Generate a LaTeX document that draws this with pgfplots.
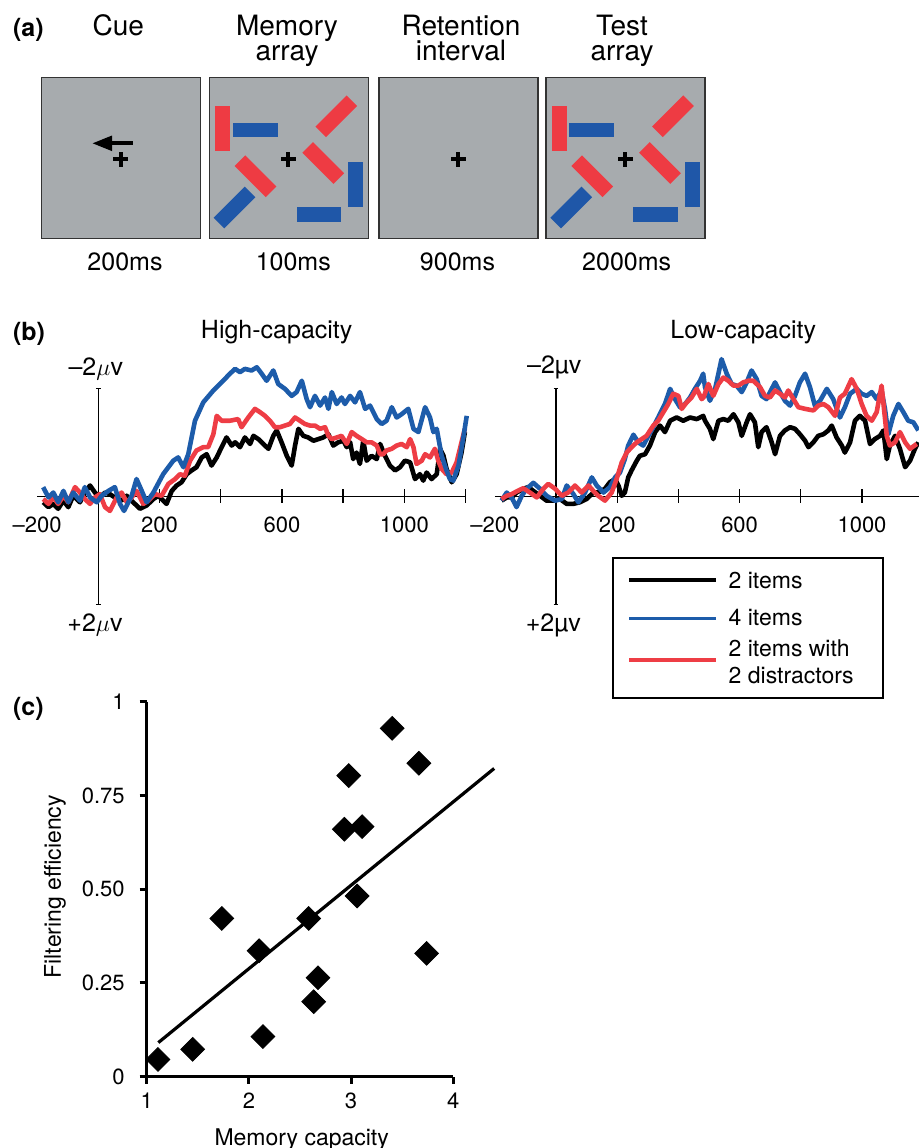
\documentclass[border=0pt]{standalone}
\usepackage{fontspec}
\setmainfont{TeX Gyre Heros}
\usepackage{pgfplots}
\pgfplotsset{compat=1.18}

\definecolor{panelgray}{HTML}{A7ABAE}
\definecolor{barred}{HTML}{EE3B43}
\definecolor{barblue}{HTML}{1F57A8}
\definecolor{erpblue}{HTML}{1D5CAA}
\definecolor{erpred}{HTML}{EE3D45}

\newcommand\fs[1]{\fontsize{#1}{#1}\selectfont}

% one stimulus display, #1,#2 = top left corner in px
\newcommand\stimitems[2]{%
  \begin{scope}[shift={(#1,#2)}]
    \fill[barred] (5.7,28.7) rectangle (20.7,73.4);
    \fill[barblue] (23.4,45.4) rectangle (68.4,60);
    \fill[barblue] (139,85) rectangle (154,130);
    \fill[barblue] (87.4,129.4) rectangle (131.7,144.4);
    \fill[barred, rotate around={-45:(46.2,99)}] (24.2,91.5) rectangle (68.2,106.5);
    \fill[barblue, rotate around={45:(25.2,130.2)}] (3.2,122.7) rectangle (47.2,137.7);
    \fill[barred, rotate around={45:(127,39)}] (105,31.5) rectangle (149,46.5);
    \fill[barred, rotate around={-45:(114,85.7)}] (92,78.2) rectangle (136,93.2);
  \end{scope}}
\newcommand\fixcross[2]{%
  \fill (#1-7.5,#2-2) rectangle (#1+7.5,#2+2);
  \fill (#1-2,#2-7.5) rectangle (#1+2,#2+7.5);}

% ERP axes: drawn by hand in axis cs so they follow the reversed y axis
\newcommand\erpframe{%
  \draw[line width=0.65pt] (axis cs:-200,0) -- (axis cs:1200,0);
  \draw[line width=0.65pt] (axis cs:0,-2) -- (axis cs:0,2);
  \draw[line width=0.65pt] (axis cs:-8,-2) -- (axis cs:8,-2);
  \draw[line width=0.65pt] (axis cs:-8,2) -- (axis cs:8,2);
  \pgfplotsinvokeforeach{200,400,600,800,1000,1200}{
    \draw[line width=0.65pt] (axis cs:##1,-0.13) -- (axis cs:##1,0.13);}
  \node[font=\fs{11}, anchor=base] at (axis cs:-200,0.667) {–200};
  \node[font=\fs{11}, anchor=base] at (axis cs:200,0.667) {200};
  \node[font=\fs{11}, anchor=base] at (axis cs:600,0.667) {600};
  \node[font=\fs{11}, anchor=base] at (axis cs:1000,0.667) {1000};}

\pgfplotsset{erp/.style={
  scale only axis, width=214.2pt, height=108pt,
  xmin=-200, xmax=1200, ymin=-2, ymax=2, y dir=reverse,
  hide axis, clip=false,
  every axis plot/.append style={line width=2.3pt, line join=round},
}}

\begin{document}
\begin{tikzpicture}
\begin{scope}[x=0.5pt, y=-0.5pt]
% ---------- panel (a)
\node[font=\bfseries\fs{12.5}, anchor=base west, inner sep=0] at (12.7,36) {(a)};
\node[font=\fs{14}, anchor=base] at (118.3,35) {Cue};
\node[font=\fs{14}, anchor=base] at (287,35) {Memory};
\node[font=\fs{14}, anchor=base] at (287,60) {array};
\node[font=\fs{14}, anchor=base] at (461,35) {Retention};
\node[font=\fs{14}, anchor=base] at (461,60) {interval};
\node[font=\fs{14}, anchor=base] at (622,35) {Test};
\node[font=\fs{14}, anchor=base] at (622,60) {array};

\foreach \sx in {41.7,209.3,379,546}
  \filldraw[fill=panelgray, draw=black!80, line width=0.6pt] (\sx,77.3) rectangle ++(159,161);

% cue
\fill (92.7,143.3) -- (112,135.5) -- (112,151.1) -- cycle;
\fill (110,141.2) rectangle (133.3,145.4);
\fixcross{120.7}{159}
% memory array
\stimitems{209.3}{77.3}
\fixcross{288.3}{159}
% retention
\fixcross{458}{159}
% test array
\stimitems{546}{77.3}
\fixcross{625}{159}

\node[font=\fs{12.5}, anchor=base] at (125,270) {200ms};
\node[font=\fs{12.5}, anchor=base] at (293.3,270) {100ms};
\node[font=\fs{12.5}, anchor=base] at (457.5,270) {900ms};
\node[font=\fs{12.5}, anchor=base] at (626.7,270) {2000ms};

% ---------- panel (b) texts
\node[font=\bfseries\fs{12.5}, anchor=base west, inner sep=0] at (12.7,340) {(b)};
\node[font=\fs{12.5}, anchor=base] at (276.7,338.3) {High-capacity};
\node[font=\fs{12.5}, anchor=base] at (743.3,338.3) {Low-capacity};
\node[font=\fs{12.5}, anchor=base] at (95.8,375) {–2$\mu$v};
\node[font=\fs{12.5}, anchor=base] at (95,631.7) {+2$\mu$v};
\node[font=\fs{12.5}, anchor=base] at (554.2,373.3) {–2µv};
\node[font=\fs{12.5}, anchor=base] at (553.3,631.7) {+2µv};

% legend
\filldraw[fill=white, draw=black, line width=1.1pt] (613.3,558.3) rectangle (882.7,698.3);
\draw[black, line width=2pt] (629.3,580) -- (716,580);
\draw[erpblue, line width=1.8pt] (629.3,618.3) -- (716,618.3);
\draw[erpred, line width=1.8pt] (629.3,660) -- (716,660);
\node[font=\fs{11.5}, anchor=base west, inner sep=0] at (728.3,588.3) {2 items};
\node[font=\fs{11.5}, anchor=base west, inner sep=0] at (728.3,625) {4 items};
\node[font=\fs{11.5}, anchor=base west, inner sep=0] at (728.3,656.7) {2 items with};
\node[font=\fs{11.5}, anchor=base west, inner sep=0] at (728.3,683.3) {2 distractors};

% ---------- panel (c) texts
\node[font=\bfseries\fs{12.5}, anchor=base west, inner sep=0] at (12.7,715) {(c)};
\node[font=\fs{11.5}, anchor=base] at (301.7,1145) {Memory capacity};
\node[font=\fs{11.5}, anchor=base, rotate=90] at (61,886.7) {Filtering efficiency};
\end{scope}

% ---------- High-capacity
\begin{axis}[erp, at={(18.55pt,-302.15pt)}, anchor=south west]
\erpframe
\addplot[black] coordinates {
(-180,0.11) (-163,0.20) (-147,0.14) (-131,0.23) (-114,0.08) (-98,0.20) (-82,-0.01)
(-60,0.11) (-44,-0.07) (-27,-0.20) (-11,-0.07) (5,0.02) (22,-0.07) (38,-0.04)
(54,0.02) (76,0.08) (93,-0.01) (114,0.11) (136,0.23) (158,0.17) (180,0.05)
(196,-0.01) (212,0.08) (223,0.14) (240,-0.10) (256,-0.20) (272,-0.26) (289,-0.41)
(305,-0.48) (321,-0.54) (338,-0.72) (354,-0.78) (370,-0.57) (387,-0.72) (403,-0.91)
(419,-1.09) (436,-0.94) (447,-1.00) (463,-0.91) (479,-1.09) (496,-0.97) (507,-1.12)
(523,-1.06) (539,-0.97) (556,-0.88) (572,-1.12) (583,-1.22) (599,-1.00) (616,-0.75)
(632,-0.57) (643,-0.94) (654,-1.25) (670,-1.12) (686,-1.09) (703,-1.03) (719,-1.06)
(735,-1.09) (752,-1.15) (768,-0.94) (784,-1.00) (801,-1.03) (812,-0.91) (823,-1.00)
(833,-0.69) (844,-0.81) (855,-0.60) (866,-1.03) (877,-0.66) (893,-0.75) (910,-0.69)
(921,-0.97) (937,-0.75) (953,-0.57) (970,-0.48) (986,-0.54) (1002,-0.66) (1019,-0.63)
(1035,-0.32) (1051,-0.41) (1062,-0.29) (1073,-0.44) (1089,-0.32) (1106,-0.41)
(1117,-0.88) (1128,-0.75) (1138,-0.51) (1155,-0.26) (1171,-0.41) (1187,-0.81) (1198,-1.19)};
\addplot[erpred] coordinates {
(-180,0.05) (-163,0.14) (-147,0.02) (-131,0.14) (-114,-0.01) (-98,0.11) (-76,-0.17)
(-60,-0.07) (-44,0.05) (-27,0.14) (-11,0.02) (5,-0.04) (22,0.20) (38,0.27) (60,0.02)
(76,-0.07) (93,0.11) (109,0.02) (125,-0.10) (147,0.14) (163,0.08) (185,-0.04)
(207,-0.01) (229,-0.23) (251,-0.32) (267,-0.41) (283,-0.38) (300,-0.66) (321,-0.85)
(343,-0.91) (359,-0.91) (376,-1.15) (387,-1.49) (403,-1.40) (430,-1.40) (457,-1.43)
(468,-1.28) (490,-1.46) (512,-1.62) (528,-1.56) (545,-1.49) (561,-1.40) (577,-1.28)
(594,-1.28) (610,-1.31) (626,-1.34) (643,-1.46) (659,-1.40) (675,-1.34) (692,-1.31)
(708,-1.31) (725,-1.25) (741,-1.28) (752,-1.12) (763,-1.06) (779,-1.09) (795,-1.12)
(812,-0.97) (828,-1.19) (844,-1.12) (861,-1.06) (877,-1.00) (893,-1.00) (910,-0.94)
(921,-0.78) (931,-0.78) (942,-0.85) (959,-0.88) (975,-0.94) (991,-0.97) (1008,-0.91)
(1019,-1.06) (1030,-0.91) (1040,-0.60) (1057,-0.66) (1068,-0.78) (1084,-0.72)
(1100,-0.88) (1111,-0.66) (1122,-0.51) (1138,-0.41) (1155,-0.44) (1171,-0.63)
(1187,-1.00) (1198,-1.25)};
\addplot[erpblue] coordinates {
(-180,-0.17) (-163,0.02) (-147,-0.07) (-131,0.11) (-114,-0.10) (-98,0.11) (-82,-0.07)
(-60,0.08) (-44,-0.17) (-27,0.02) (-5,0.11) (11,-0.01) (33,-0.10) (54,-0.17) (71,0.14)
(84,0.27) (109,-0.01) (125,-0.32) (142,-0.10) (158,0.11) (180,-0.07) (212,-0.41)
(245,-0.66) (261,-0.72) (278,-0.54) (294,-0.78) (316,-1.40) (343,-1.74) (376,-1.96)
(408,-2.14) (430,-2.27) (447,-2.36) (463,-2.30) (479,-2.36) (501,-2.33) (518,-2.39)
(534,-2.27) (550,-2.14) (572,-2.33) (588,-2.08) (610,-1.99) (632,-1.86) (648,-1.93)
(665,-2.14) (681,-1.80) (692,-1.65) (708,-1.86) (725,-1.68) (741,-1.83) (752,-1.62)
(763,-1.93) (779,-1.71) (795,-1.83) (806,-1.71) (823,-1.86) (839,-1.74) (855,-1.93)
(872,-1.62) (888,-1.68) (910,-1.43) (926,-1.34) (942,-1.40) (959,-1.65) (975,-1.46)
(991,-1.52) (1013,-1.62) (1030,-1.25) (1046,-1.19) (1068,-1.65) (1084,-1.46)
(1095,-1.19) (1106,-1.25) (1122,-0.75) (1138,-0.48) (1149,-0.32) (1160,-0.29)
(1177,-0.57) (1193,-1.09) (1204,-1.49)};
\end{axis}

% ---------- Low-capacity
\begin{axis}[erp, at={(247.4pt,-302.15pt)}, anchor=south west]
\erpframe
\addplot[black] coordinates {
(-178,0.08) (-161,0.02) (-145,0.02) (-129,-0.07) (-107,-0.14) (-90,-0.17) (-74,-0.10)
(-52,-0.01) (-31,0.08) (-9,0.08) (13,0.05) (35,0.14) (57,0.14) (78,0.11) (100,0.05)
(122,-0.07) (138,-0.07) (160,-0.14) (176,-0.26) (193,-0.32) (204,-0.20) (215,-0.01)
(225,-0.07) (236,-0.35) (247,-0.48) (264,-0.66) (274,-0.75) (291,-0.78) (307,-0.94)
(324,-1.19) (340,-1.31) (356,-1.19) (373,-1.40) (394,-1.46) (416,-1.40) (438,-1.46)
(460,-1.43) (481,-1.49) (487,-1.40) (503,-1.25) (514,-1.06) (531,-1.40) (547,-1.43)
(563,-1.40) (580,-1.52) (596,-1.37) (607,-1.12) (623,-1.37) (634,-1.52) (650,-1.37)
(661,-0.91) (672,-1.19) (688,-1.28) (705,-1.00) (716,-0.78) (732,-1.12) (748,-1.22)
(765,-1.28) (781,-1.25) (797,-1.15) (814,-1.03) (825,-0.91) (841,-1.00) (857,-1.12)
(874,-1.15) (890,-1.22) (901,-1.31) (917,-1.09) (934,-0.94) (944,-0.81) (961,-1.00)
(977,-1.40) (993,-1.49) (1010,-1.40) (1026,-0.97) (1042,-1.06) (1059,-1.12)
(1070,-1.22) (1081,-0.69) (1091,-0.94) (1108,-1.12) (1124,-0.88) (1141,-0.54)
(1157,-0.66) (1173,-0.88) (1184,-1.00)};
\addplot[erpblue] coordinates {
(-178,0.08) (-161,-0.07) (-145,0.02) (-129,0.20) (-112,-0.01) (-96,-0.14) (-74,-0.25)
(-52,-0.14) (-31,-0.01) (-3,0.08) (19,0.05) (35,-0.20) (57,-0.04) (73,0.11) (95,-0.07)
(117,-0.35) (133,-0.20) (155,-0.07) (176,-0.17) (193,-0.35) (209,-0.44) (225,-0.69)
(236,-0.94) (253,-1.14) (269,-1.00) (285,-0.94) (302,-1.12) (318,-1.28) (334,-1.46)
(356,-1.71) (373,-1.99) (389,-1.80) (405,-1.65) (422,-1.71) (438,-1.83) (454,-1.99)
(471,-2.14) (481,-2.27) (487,-2.02) (503,-1.77) (520,-1.99) (541,-2.54) (558,-2.27)
(574,-2.08) (590,-2.05) (607,-1.93) (623,-2.11) (639,-2.33) (656,-2.17) (672,-1.86)
(688,-1.80) (705,-1.99) (716,-2.11) (732,-1.93) (748,-1.77) (765,-1.68) (781,-1.86)
(797,-2.11) (814,-2.27) (830,-2.02) (846,-1.68) (863,-1.77) (885,-1.99) (906,-1.80)
(928,-1.46) (944,-1.65) (961,-1.90) (983,-1.99) (999,-1.90) (1015,-1.86) (1032,-1.93)
(1048,-1.80) (1064,-1.96) (1075,-1.62) (1086,-1.15) (1102,-1.49) (1119,-1.71)
(1135,-1.56) (1151,-1.40) (1168,-1.37) (1184,-1.22)};
\addplot[erpred] coordinates {
(-178,0.05) (-161,-0.01) (-145,-0.04) (-129,-0.09) (-107,-0.15) (-85,-0.07) (-63,0.02)
(-41,-0.14) (-25,-0.23) (-3,-0.14) (19,-0.01) (40,-0.07) (62,-0.20) (84,-0.07)
(106,-0.20) (122,-0.10) (138,-0.01) (160,0.08) (182,-0.07) (198,-0.32) (215,-0.63)
(231,-0.81) (247,-0.91) (264,-1.00) (280,-1.06) (296,-1.12) (318,-1.31) (334,-1.40)
(351,-1.56) (367,-1.71) (383,-1.90) (400,-1.86) (411,-1.62) (427,-1.74) (443,-1.83)
(460,-1.99) (476,-1.80) (482,-1.83) (498,-2.08) (514,-1.86) (531,-2.08) (547,-2.20)
(563,-2.14) (580,-2.05) (596,-2.05) (612,-2.11) (629,-2.14) (645,-2.14) (667,-2.02)
(683,-1.86) (699,-1.83) (716,-1.96) (732,-1.90) (748,-1.83) (759,-1.96) (776,-1.80)
(792,-1.65) (814,-1.62) (841,-1.59) (857,-1.68) (874,-1.71) (890,-1.65) (912,-1.49)
(928,-1.83) (944,-1.90) (966,-2.17) (983,-1.99) (999,-1.71) (1015,-1.49) (1032,-1.40)
(1048,-1.56) (1064,-2.05) (1081,-1.12) (1091,-0.94) (1108,-1.00) (1124,-1.19)
(1141,-1.00) (1157,-0.88) (1179,-0.97)};
\end{axis}

% ---------- panel (c)
\begin{axis}[at={(73.35pt,-538.35pt)}, anchor=south west,
  scale only axis, width=153.3pt, height=187.5pt,
  xmin=1, xmax=4, ymin=0, ymax=1,
  axis lines=left, axis line style={-, line width=1.5pt},
  every inner x axis line/.append style={-},
  every inner y axis line/.append style={-},
  clip=false,
  xtick={1,2,3,4}, xticklabels={1,2,3,4},
  ytick={0,0.25,0.5,0.75,1}, yticklabels={0,0.25,0.50,0.75,1},
  tick align=outside, major tick length=3.5pt,
  tick style={black, line width=1.5pt},
  xticklabel style={font=\fs{11}, anchor=base, yshift=-12.3pt},
  yticklabel style={font=\fs{11}, anchor=east, xshift=-4pt},
]
\addplot[only marks, mark=square*, mark size=4.2pt,
  mark options={rotate=45, fill=black, draw=black}] coordinates {
(1.11,0.046) (1.45,0.073) (1.735,0.422) (2.10,0.336) (2.137,0.107) (2.585,0.422)
(2.634,0.20) (2.676,0.264) (2.934,0.66) (3.108,0.667) (2.977,0.803) (3.059,0.482)
(3.402,0.929) (3.663,0.836) (3.739,0.329)};
\addplot[black, line width=1.6pt] coordinates {(1.114,0.091) (4.40,0.822)};
\end{axis}

\pgfresetboundingbox
\useasboundingbox (0pt,0pt) rectangle (459pt,-574pt);
\end{tikzpicture}
\end{document}
